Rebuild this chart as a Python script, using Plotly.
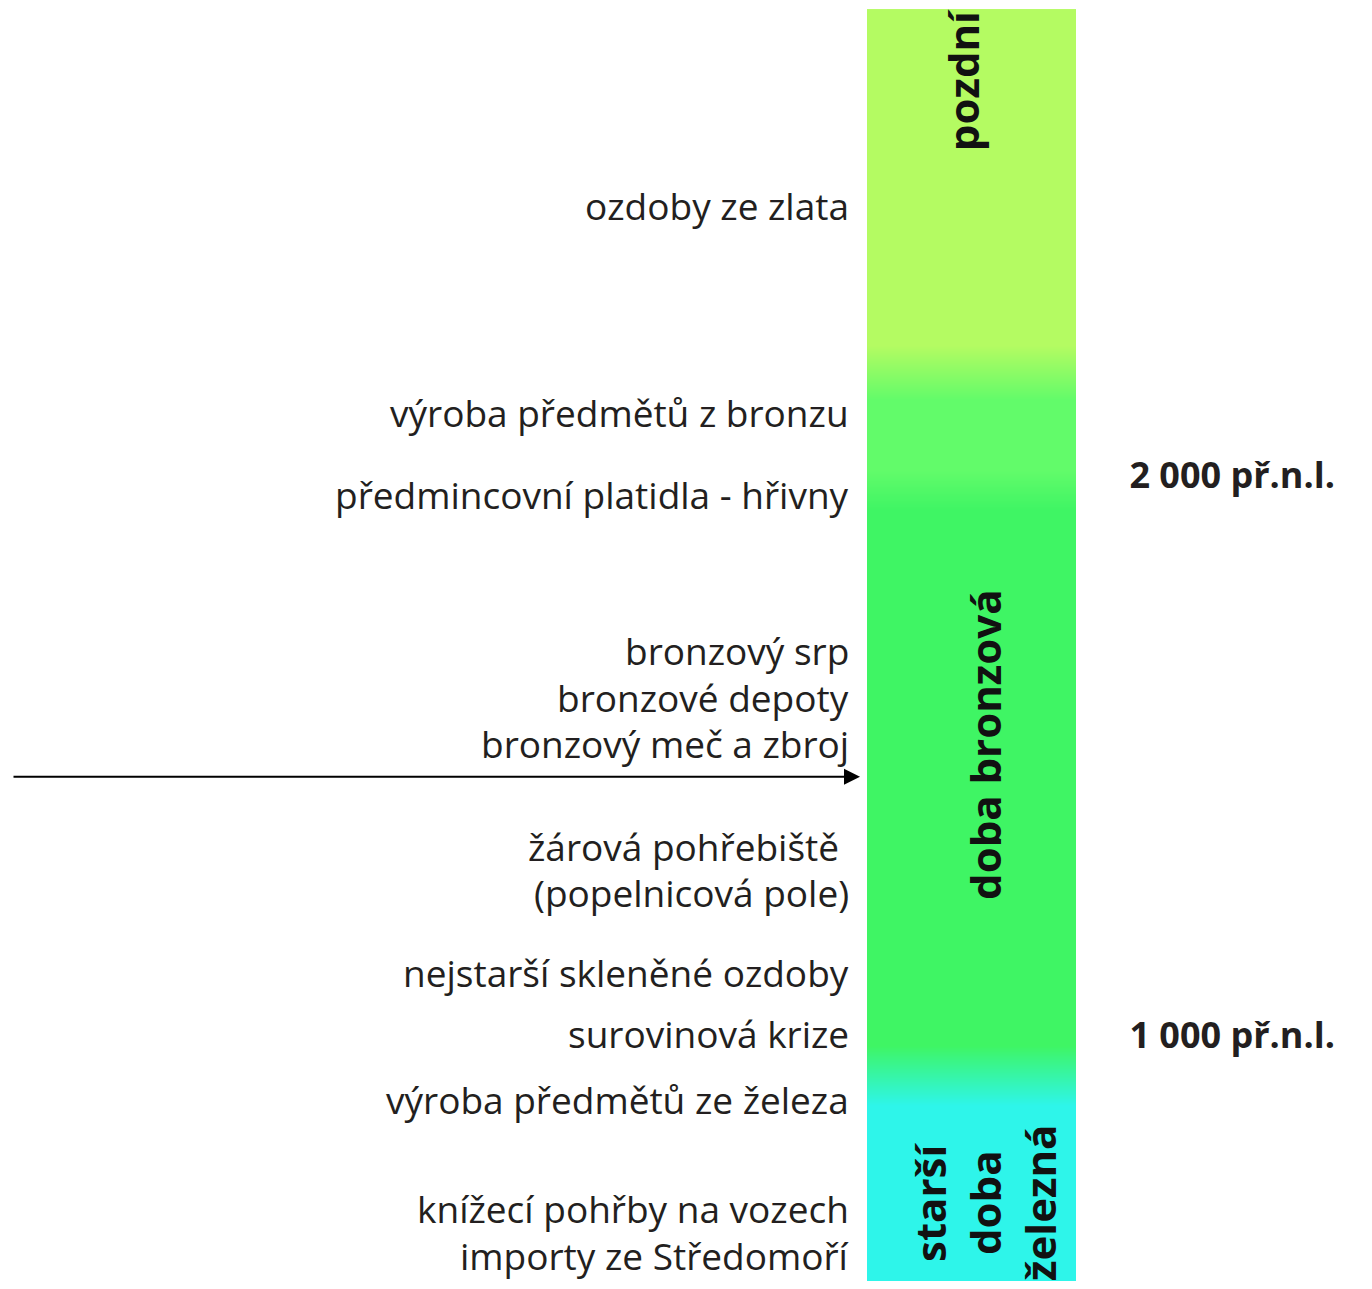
import plotly.graph_objects as go

# ---- data -------------------------------------------------------------
# colour stops of the timeline bar (years BC, colour stage index)
stop_years = [2830, 2826, 2232, 2134, 2009, 1938, 982, 875, 546]
stop_stage = [0, 0, 0, 1, 1, 2, 2, 3, 3]
stage_colors = ["#b4fb62", "#62fb6a", "#3ff564", "#2ef5ea"]

# events (years BC) shown to the left of the bar
event_years = [2482, 2112, 1966, 1687, 1602, 1520, 1336, 1254, 1111, 1002, 884, 691, 607]
event_labels = [
    "ozdoby ze zlata",
    "výroba předmětů z bronzu",
    "předmincovní platidla - hřivny",
    "bronzový srp",
    "bronzové depoty",
    "bronzový meč a zbroj",
    "žárová pohřebiště ",
    "(popelnicová pole)",
    "nejstarší skleněné ozdoby",
    "surovinová krize",
    "výroba předmětů ze železa",
    "knížecí pohřby na vozech",
    "importy ze Středomoří",
]

# period names written inside the bar (each entry: list of lines)
period_years = [2705, 1518, 700]
period_lines = [["pozdní"], ["doba bronzová"], ["starší", "doba", "železná"]]

# tick labels on the right
tick_years = [2000, 1000]
tick_labels = ["2 000 př.n.l.", "1 000 př.n.l."]

# arrow marking a moment on the timeline
arrow_year = 1461

# ---- figure -----------------------------------------------------------
FONT = "Open Sans"
TEXT_COLOR = "#231f20"
BAR_X0, BAR_X1 = 867, 1076

n = len(stage_colors) - 1
colorscale = [[i / n, c] for i, c in enumerate(stage_colors)]

fig = go.Figure()
fig.add_trace(
    go.Heatmap(
        x=[BAR_X0, (BAR_X0 + BAR_X1) / 2, BAR_X1],
        y=stop_years,
        z=[[s, s] for s in stop_stage],
        zmin=0,
        zmax=n,
        colorscale=colorscale,
        zsmooth="best",
        showscale=False,
        hoverinfo="skip",
    )
)

annotations = []
for yr, lab in zip(event_years, event_labels):
    annotations.append(
        dict(
            x=851, y=yr, xref="x", yref="y", text=lab, showarrow=False,
            xanchor="right", yanchor="middle",
            font=dict(family=FONT, size=37, color=TEXT_COLOR),
        )
    )

period_x = [962, 985, 985]
line_gap = 55
for yr, lines, xc in zip(period_years, period_lines, period_x):
    k = len(lines)
    for i, ln in enumerate(lines):
        annotations.append(
            dict(
                x=xc + (i - (k - 1) / 2) * line_gap, y=yr, xref="x", yref="y",
                text=f"<b>{ln}</b>", showarrow=False, textangle=-90,
                xanchor="center", yanchor="middle",
                font=dict(family=FONT, size=42, color="#111111"),
            )
        )

annotations.append(
    dict(
        x=860, y=arrow_year, ax=12, ay=arrow_year, xref="x", yref="y",
        axref="x", ayref="y", text="", showarrow=True,
        arrowhead=2, arrowsize=1.6, arrowwidth=2, arrowcolor="#000000",
        standoff=0, startstandoff=0,
    )
)

fig.update_layout(
    width=1356,
    height=1273,
    margin=dict(l=0, r=0, t=0, b=0),
    paper_bgcolor="white",
    plot_bgcolor="white",
    showlegend=False,
    annotations=annotations,
    xaxis=dict(range=[8, 1364], visible=False, fixedrange=True),
    yaxis=dict(
        range=[560.7, 2833.9],
        side="right",
        ticklabelposition="inside",
        ticklabelstandoff=26,
        tickvals=tick_years,
        ticktext=[f"<b>{t}</b>" for t in tick_labels],
        tickfont=dict(family=FONT, size=36, color=TEXT_COLOR),
        ticks="",
        showgrid=False,
        zeroline=False,
        showline=False,
        fixedrange=True,
    ),
)

fig.write_html("out.html")
